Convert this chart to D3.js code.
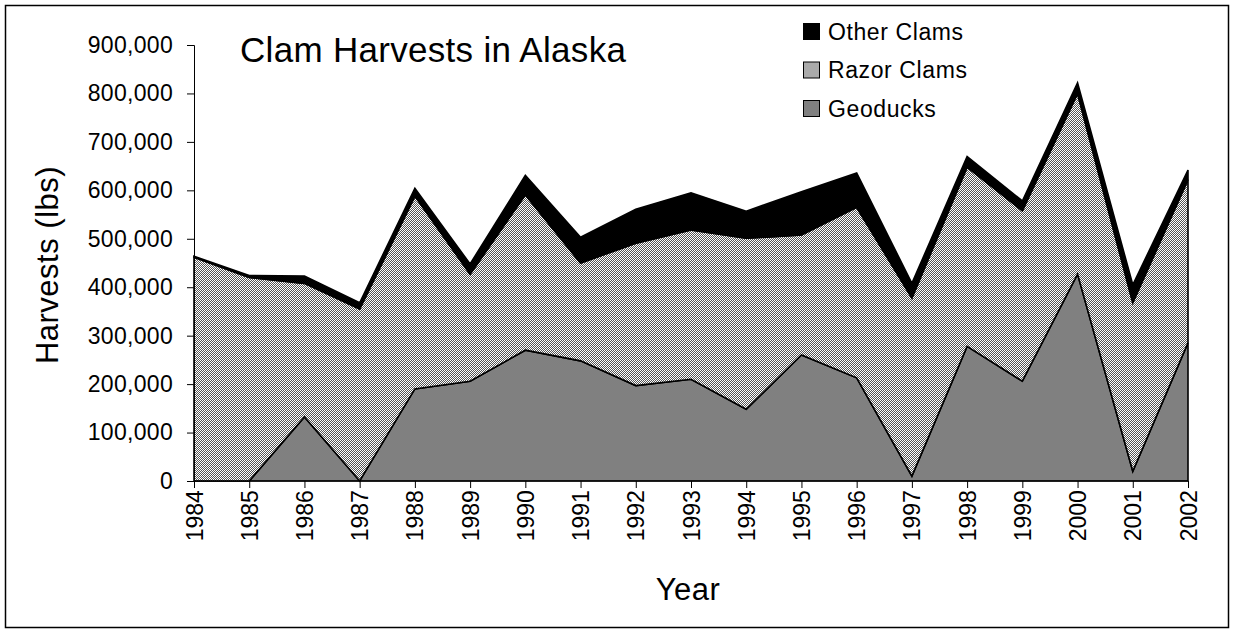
<!DOCTYPE html>
<html>
<head>
<meta charset="utf-8">
<script src="https://cdn.jsdelivr.net/npm/d3@7"></script>
<style>
  body { margin: 0; background: #fff; }
  svg { display: block; font-family: Arial, "Liberation Sans", sans-serif; }
</style>
</head>
<body>
<div id="chart"></div>
<script>
// Clam harvests in Alaska (lbs)
const years = ['1984', '1985', '1986', '1987', '1988', '1989', '1990', '1991', '1992', '1993',
    '1994', '1995', '1996', '1997', '1998', '1999', '2000', '2001', '2002'];
const geoducks = [0, 0, 132000, 0, 190000, 206000, 270000, 248000, 197000, 210000,
    148000, 260000, 213000, 10000, 278000, 206000, 427000, 20000, 285000];
const razorClams = [462000, 420000, 276000, 355000, 398000, 221000, 321000, 202000, 294000, 308000,
    353000, 248000, 352000, 368000, 370000, 352000, 373000, 348000, 337000];
const otherClams = [2000, 4000, 15000, 13000, 16000, 21000, 40000, 53000, 70000, 77000,
    56000, 89000, 71000, 30000, 22000, 20000, 22000, 37000, 20000];
const yTicks = [0, 100000, 200000, 300000, 400000, 500000, 600000, 700000, 800000, 900000];
const seriesNames = ['Geoducks', 'Razor Clams', 'Other Clams'];

const W = 1233, H = 634;
const margin = { top: 45, left: 194, right: 45, bottom: 153 };
const width = W - margin.left - margin.right,
    height = H - margin.top - margin.bottom;

const svg = d3.select('#chart')
    .append('svg')
    .attr('width', W)
    .attr('height', H);

// checker pattern used by Excel for the razor clam series
const defs = svg.append('defs');
const pat = defs.append('pattern')
    .attr('id', 'checker')
    .attr('patternUnits', 'userSpaceOnUse')
    .attr('width', 2)
    .attr('height', 2);
pat.append('rect').attr('width', 2).attr('height', 2).attr('fill', '#fff');
pat.append('rect').attr('width', 1).attr('height', 1).attr('fill', '#555');
pat.append('rect').attr('x', 1).attr('y', 1).attr('width', 1).attr('height', 1).attr('fill', '#555');

const fills = { 'Geoducks': '#808080', 'Razor Clams': 'url(#checker)', 'Other Clams': '#000' };

// outer frame
svg.append('rect')
    .attr('x', 5.5).attr('y', 5.5)
    .attr('width', 1223).attr('height', 622)
    .attr('fill', 'none')
    .attr('stroke', '#000')
    .attr('stroke-width', 1.5);

const g = svg.append('g')
    .attr('transform', 'translate(' + margin.left + ',' + margin.top + ')');

const xScale = d3.scalePoint()
    .domain(years)
    .range([0, width]);

const yScale = d3.scaleLinear()
    .domain([0, 900000])
    .range([height, 0]);

const table = years.map((y, i) => ({
    year: y,
    'Geoducks': geoducks[i],
    'Razor Clams': razorClams[i],
    'Other Clams': otherClams[i]
}));

const stacked = d3.stack().keys(seriesNames)(table);

const area = d3.area()
    .x(d => xScale(d.data.year))
    .y0(d => yScale(d[0]))
    .y1(d => yScale(d[1]));

g.selectAll('.layer')
    .data(stacked)
    .join('path')
    .attr('class', 'layer')
    .attr('d', area)
    .attr('fill', d => fills[d.key])
    .attr('stroke', '#000')
    .attr('stroke-width', 1.6)
    .attr('stroke-linejoin', 'miter');

// Y axis
const yAxis = g.append('g')
    .call(d3.axisLeft(yScale)
        .tickValues(yTicks)
        .tickSize(7)
        .tickPadding(14)
        .tickFormat(d3.format(',')));
yAxis.selectAll('text')
    .attr('font-size', 23)
    .attr('letter-spacing', 0.3)
    .attr('font-family', 'Arial, "Liberation Sans", sans-serif')
    .attr('fill', '#000');
yAxis.selectAll('line, path').attr('stroke', '#000');
yAxis.select('.domain').attr('d', 'M-7,0.5H0.5V' + height);

// X axis
const xAxis = g.append('g')
    .attr('transform', 'translate(0,' + height + ')')
    .call(d3.axisBottom(xScale).tickSize(7).tickPadding(4));
xAxis.select('.domain').attr('d', 'M0,0H' + width);
xAxis.selectAll('line, path').attr('stroke', '#000');
xAxis.selectAll('text')
    .attr('font-size', 23)
    .attr('font-family', 'Arial, "Liberation Sans", sans-serif')
    .attr('fill', '#000')
    .style('text-anchor', 'end')
    .attr('dx', '-0.4em')
    .attr('dy', '0.35em')
    .attr('y', 0)
    .attr('transform', 'rotate(-90)');

// axis titles
svg.append('text')
    .attr('transform', 'translate(58,' + (margin.top + height / 2 + 2) + ') rotate(-90)')
    .attr('text-anchor', 'middle')
    .attr('font-size', 31)
    .attr('letter-spacing', 0.5)
    .text('Harvests (lbs)');

svg.append('text')
    .attr('x', 688)
    .attr('y', 600)
    .attr('text-anchor', 'middle')
    .attr('font-size', 31)
    .attr('letter-spacing', 0.5)
    .text('Year');

// chart title
svg.append('text')
    .attr('x', 240)
    .attr('y', 62)
    .attr('font-size', 35)
    .attr('letter-spacing', 0.3)
    .text('Clam Harvests in Alaska');

// legend, top series first
const legend = svg.append('g')
    .attr('transform', 'translate(803,23)');
const items = legend.selectAll('g')
    .data(seriesNames.slice().reverse())
    .join('g')
    .attr('transform', (d, i) => 'translate(0,' + i * 38.5 + ')');
items.append('rect')
    .attr('x', 0.5).attr('y', 0.5)
    .attr('width', 16).attr('height', 16)
    .attr('fill', d => fills[d])
    .attr('stroke', '#000');
items.append('text')
    .attr('x', 25)
    .attr('y', 16.5)
    .attr('font-size', 23)
    .attr('letter-spacing', 0.6)
    .text(d => d);
</script>
</body>
</html>
